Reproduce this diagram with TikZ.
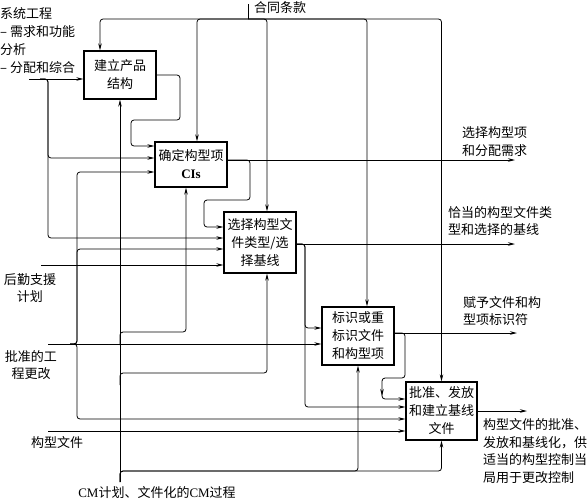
\documentclass[tikz,border=0pt]{standalone}
\usepackage{fontspec}
\setmainfont{Noto Sans CJK SC}
\newfontfamily\lserif{Liberation Serif}
\usetikzlibrary{arrows.meta}
\begin{document}
\begin{tikzpicture}[x=1pt,y=-1pt,
  blk/.style={draw, line width=1.3pt, inner sep=0pt, align=center, font=\fontsize{13}{18}\selectfont},
  ln/.style={line width=0.8pt, rounded corners=3pt},
  arr/.style={ln, -{Stealth[length=7pt,width=3.5pt]}},
  lbl/.style={inner sep=0pt, font=\fontsize{13}{17.5}\selectfont}]
\useasboundingbox (0,0) rectangle (588,501);
% boxes
\node[blk, minimum width=72pt, minimum height=48pt] (A) at (120,75) {建立产品\\结构};
\node[blk, minimum width=72pt, minimum height=45pt] (B) at (191,164.5) {确定构型项\\{\lserif\bfseries CIs}};
\node[blk, minimum width=72pt, minimum height=61pt] (C) at (260,242.5) {选择构型文\\件类型/选\\择基线};
\node[blk, minimum width=72pt, minimum height=58pt] (D) at (358,336) {标识或重\\标识文件\\和构型项};
\node[blk, minimum width=71pt, minimum height=58pt] (E) at (441.5,411) {批准、发放\\和建立基线\\文件};
% levels and free ends
\foreach \v in {146,158,160,172,227,238,244,249,328,333,399,407,419}{\coordinate (y\v) at (0,\v);}
\coordinate (ctop) at (248,19);
\coordinate (ctick) at (248,4);
\coordinate (sein) at (29,79);
\coordinate (lgin) at (41,265);
\coordinate (ecin) at (48,344);
\coordinate (cfin) at (48,431);
\coordinate (mech) at (120,482);
\coordinate (oB) at (515,160);
\coordinate (oC) at (515,244);
\coordinate (oD) at (517,333);
\coordinate (oE) at (527,411);
% controls
\draw[ln] (ctick) -- (ctop);
\draw[arr] (ctop) -| ([xshift=-20pt]A.north);
\draw[arr] (ctop) -| ([xshift=6pt]B.north);
\draw[arr] (ctop) -| ([xshift=7pt]C.north);
\draw[arr] (ctop) -| ([xshift=9pt]D.north);
\draw[arr] (ctop) -| (E.north);
% system engineering input
\draw[arr] (sein) -- (A.west |- sein);
\draw[arr] (40,79) -- (48,79) -- (48,158) -- (B.west |- y158);
\draw[arr] (40,79) -- (48,79) -- (48,238) -- (C.west |- y238);
% A output
\draw[arr] (A.east) -- (180,75) -- (180,120) -- (131,120) -- (131,146) -- (B.west |- y146);
% B output
\draw[arr] (B.east |- y160) -- (oB);
\draw[arr] (B.east |- y160) -- (250,160) -- (250,200) -- (204,200) -- (204,227) -- (C.west |- y227);
% C output
\draw[arr] (C.east |- y244) -- (oC);
\draw[arr] (C.east |- y244) -- (305,244) -- (305,328) -- (D.west |- y328);
\draw[arr] (C.east |- y244) -- (305,244) -- (305,407) -- (E.west |- y407);
% D output
\draw[arr] (D.east |- y333) -- (oD);
\draw[arr] (D.east |- y333) -- (405,333) -- (405,378) -- (382,378) -- (382,396);
\draw[arr] (382,392) -- (382,399) -- (E.west |- y399);
% E output
\draw[arr] (E.east) -- (oE);
% logistics
\draw[arr] (lgin) -- (C.west |- lgin);
% engineering change
\draw[arr] (ecin) -- (D.west |- ecin);
\draw[arr] (70,344) -- (77,344) -- (77,172) -- (B.west |- y172);
\draw[arr] (70,344) -- (77,344) -- (77,249) -- (C.west |- y249);
\draw[arr] (70,344) -- (77,344) -- (77,419) -- (E.west |- y419);
% configuration documents
\draw[arr] (cfin) -- (E.west |- cfin);
% mechanism
\draw[arr] (mech) -- (A.south);
\draw[arr] (120,345) -- (120,332) -- (186,332) -- ([xshift=-5pt]B.south);
\draw[arr] (120,385) -- (120,373) -- (267,373) -- ([xshift=7pt]C.south);
\draw[arr] (mech) -- (120,471) -- (358,471) -- (D.south);
\draw[arr] (mech) -- (120,471) -- (441.5,471) -- (E.south);
% labels
\node[lbl, anchor=west] (tc) at (254,8) {合同条款};
\node[lbl, anchor=west, align=left, font=\fontsize{13}{18}\selectfont] (se) at (0,41) {系统工程\\– 需求和功能\\分析\\– 分配和综合};
\node[lbl, anchor=west, align=left] (lB) at (462,141.5) {选择构型项\\和分配需求};
\node[lbl, anchor=west, align=left] (lC) at (448,221) {恰当的构型文件类\\型和选择的基线};
\node[lbl, anchor=west, align=left] (lD) at (463,311) {赋予文件和构\\型项标识符};
\node[lbl, anchor=west, align=left] (lE) at (483,451) {构型文件的批准、\\发放和基线化，供\\适当的构型控制当\\局用于更改控制};
\node[lbl, align=center] (lg) at (30,288) {后勤支援\\计划};
\node[lbl, align=center, font=\fontsize{13}{16.5}\selectfont] (ec) at (31,365) {批准的工\\程更改};
\node[lbl] (cf) at (57,443) {构型文件};
\node[lbl] (cm) at (157,493) {{\lserif CM}计划、文件化的{\lserif CM}过程};
\end{tikzpicture}
\end{document}
